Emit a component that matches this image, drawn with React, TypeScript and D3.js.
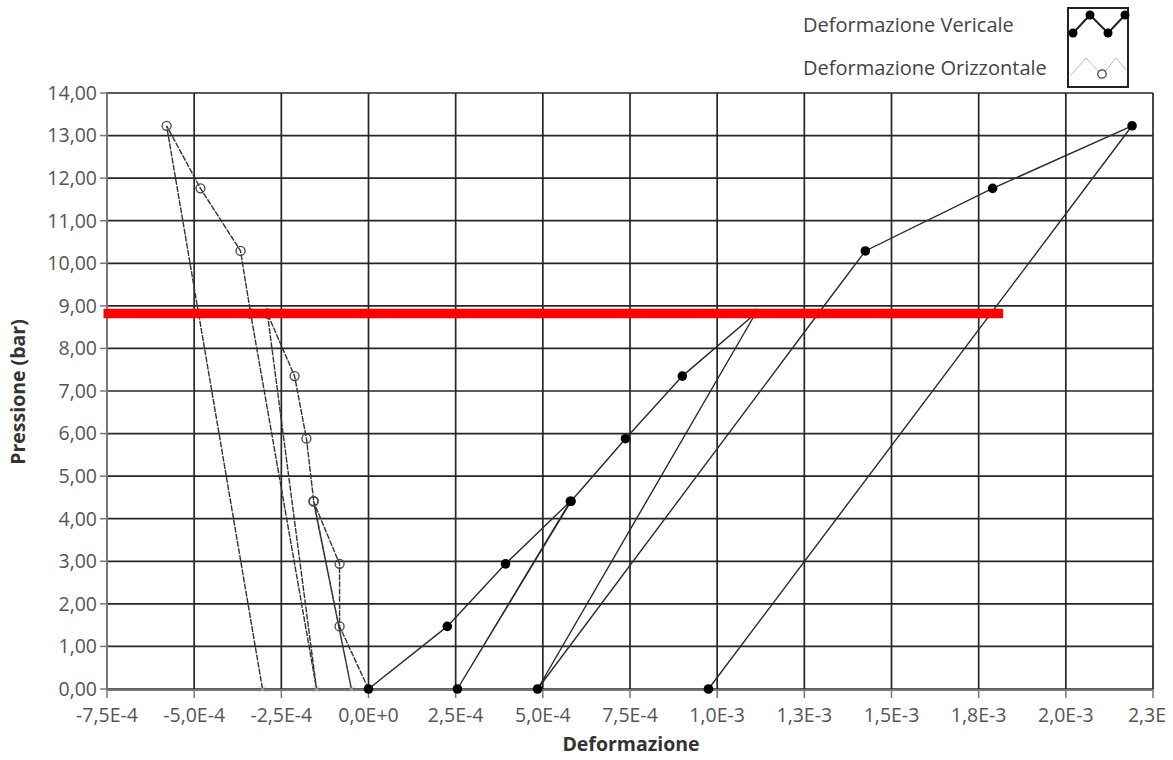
import React from 'react';
import * as d3 from 'd3';

// pressione (bar) for each reading, load / unload / reload cycles
const pressione = [0, 1.47, 2.94, 4.41, 0, 4.41, 5.88, 7.35, 8.82, 0, 8.82, 10.29, 11.76, 13.23, 0];
const defVerticale = [0, 2.26e-4, 3.93e-4, 5.79e-4, 2.55e-4, 5.81e-4, 7.37e-4, 9.0e-4, 1.11e-3, 4.85e-4, 1.29e-3, 1.425e-3, 1.79e-3, 2.19e-3, 9.75e-4];
const defOrizzontale = [0, -0.83e-4, -0.83e-4, -1.58e-4, -0.49e-4, -1.57e-4, -1.78e-4, -2.12e-4, -2.9e-4, -1.49e-4, -3.38e-4, -3.67e-4, -4.82e-4, -5.79e-4, -3.04e-4];

const xTicks = [-7.5e-4, -5e-4, -2.5e-4, 0, 2.5e-4, 5e-4, 7.5e-4, 1e-3, 1.25e-3, 1.5e-3, 1.75e-3, 2e-3, 2.25e-3];
// the last label is cut by the picture edge in the original
const xTickLabels = ['-7,5E-4', '-5,0E-4', '-2,5E-4', '0,0E+0', '2,5E-4', '5,0E-4', '7,5E-4', '1,0E-3', '1,3E-3', '1,5E-3', '1,8E-3', '2,0E-3', '2,3E'];
const yTicks = [0, 1, 2, 3, 4, 5, 6, 7, 8, 9, 10, 11, 12, 13, 14];

const seriesNames = ['Deformazione Vericale', 'Deformazione Orizzontale'];

// red highlight drawn over the chart
const redLevel = 8.82;
const redFrom = -7.6e-4;
const redTo = 1.82e-3;

const W = 1173;
const H = 760;
const FONT = '"Open Sans", "DejaVu Sans", sans-serif';

const fmtY = d3.formatLocale({ decimal: ',', thousands: '.', grouping: [3], currency: ['', ''] }).format('.2f');

export default function App() {
    const x = d3.scaleLinear().domain([-7.5e-4, 2.25e-3]).range([107, 1153]);
    const y = d3.scaleLinear().domain([0, 14]).range([689, 93]);

    const vert = pressione.map((p, i) => ({ d: defVerticale[i], p }));
    const oriz = pressione.map((p, i) => ({ d: defOrizzontale[i], p }));

    const line = d3.line<{ d: number; p: number }>()
        .x(v => x(v.d))
        .y(v => y(v.p));

    const [x0, x1] = x.range();
    const [y0, y1] = y.range();

    return (
        <svg width={W} height={H} style={{ position: 'absolute', left: 0, top: 0, background: '#fff' }}
            fontFamily={FONT}>
            {/* grid */}
            <g stroke="#262626" strokeWidth={1.7}>
                {yTicks.map(t => (
                    <line key={'gy' + t} x1={x0} x2={x1} y1={y(t)} y2={y(t)} />
                ))}
                {xTicks.map(t => (
                    <line key={'gx' + t} x1={x(t)} x2={x(t)} y1={y1} y2={y0} />
                ))}
            </g>

            {/* axes */}
            <g stroke="#777" strokeWidth={2}>
                <line x1={x0} x2={x0} y1={y1} y2={y0 + 1} />
                <line x1={x0} x2={x1} y1={y0 + 1} y2={y0 + 1} />
                {yTicks.map(t => (
                    <line key={'ty' + t} x1={x0 - 7} x2={x0} y1={y(t)} y2={y(t)} strokeWidth={1.5} />
                ))}
                {xTicks.map(t => (
                    <line key={'tx' + t} x1={x(t)} x2={x(t)} y1={y0} y2={y0 + 9} strokeWidth={1.5} />
                ))}
            </g>

            <g fill="#555" fontSize={19.5}>
                {yTicks.map(t => (
                    <text key={'ly' + t} x={x0 - 10} y={y(t)} dy="0.35em" textAnchor="end">{fmtY(t)}</text>
                ))}
                {xTicks.map((t, i) => (
                    <text key={'lx' + t} x={x(t) - (i === xTicks.length - 1 ? 6 : 0)} y={y0 + 33} textAnchor="middle">{xTickLabels[i]}</text>
                ))}
            </g>

            {/* axis titles */}
            <text x={631} y={751} textAnchor="middle" fontWeight="bold" fontSize={19.5} fill="#333">Deformazione</text>
            <text transform="translate(25,392) rotate(-90)" textAnchor="middle" fontWeight="bold" fontSize={19.5} fill="#333">Pressione (bar)</text>

            {/* horizontal deformation */}
            <path d={line(oriz) || ''} fill="none" stroke="#333" strokeWidth={1.4} strokeDasharray="6 1.2" />
            {oriz.map((v, i) => v.p > 0 ? (
                <circle key={'co' + i} cx={x(v.d)} cy={y(v.p)} r={4.5} fill="none" stroke="#444" strokeWidth={1.3} />
            ) : (
                <path key={'xo' + i} d={`M${x(v.d) - 3},${y(v.p) - 3}l6,6M${x(v.d) + 3},${y(v.p) - 3}l-6,6`}
                    stroke="#bbb" strokeWidth={1} />
            ))}

            {/* vertical deformation */}
            <path d={line(vert) || ''} fill="none" stroke="#2a2a2a" strokeWidth={1.4} />
            {vert.map((v, i) => (
                <circle key={'cv' + i} cx={x(v.d)} cy={y(v.p)} r={4.8} fill="#000" />
            ))}

            {/* red highlight */}
            <line x1={x(redFrom)} x2={x(redTo)} y1={y(redLevel)} y2={y(redLevel)} stroke="#ff0000" strokeWidth={9.5} />

            {/* legend */}
            <g fill="#444" fontSize={20}>
                <text x={803} y={32}>{seriesNames[0]}</text>
                <text x={803} y={75}>{seriesNames[1]}</text>
            </g>
            <rect x={1068} y={8} width={60} height={79} fill="#fff" stroke="#222" strokeWidth={2} />
            <polyline points="1073,33 1090,15 1108,33 1125,15" fill="none" stroke="#222" strokeWidth={2} />
            {[[1073, 33], [1090, 15], [1108, 33], [1125, 15]].map(([cx, cy], i) => (
                <circle key={'lv' + i} cx={cx} cy={cy} r={4.5} fill="#000" />
            ))}
            <polyline points="1071,75 1086,58 1102,75 1116,58 1126,70" fill="none" stroke="#bbb" strokeWidth={1} />
            <circle cx={1102} cy={74} r={4.2} fill="#fff" stroke="#444" strokeWidth={1.3} />
        </svg>
    );
}
